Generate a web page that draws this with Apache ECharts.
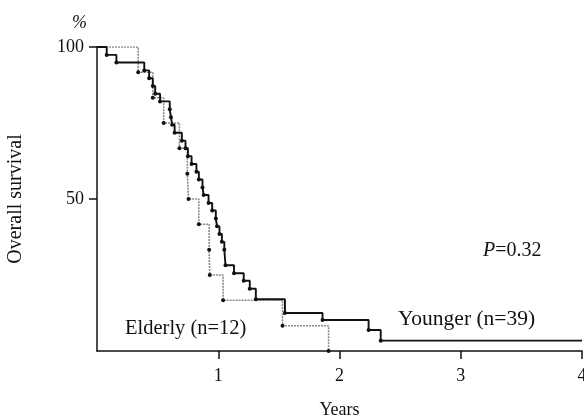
<!DOCTYPE html>
<html lang="en">
<head>
  <meta charset="UTF-8">
  <title>Overall survival</title>
  <script src="https://cdn.jsdelivr.net/npm/echarts@6/dist/echarts.min.js"></script>
</head>
<body style="margin:0">
  <div id="main" style="width:584px;height:420px"></div>
  <script>
    var myChart = echarts.init(document.getElementById('main'))

    // Kaplan-Meier steps: time in years, survival in %
    var youngerT = [0, 0.08, 0.16, 0.39, 0.43, 0.46, 0.48, 0.52, 0.6, 0.61, 0.62, 0.64, 0.7, 0.73, 0.75, 0.78,
                    0.82, 0.84, 0.87, 0.88, 0.92, 0.95, 0.98, 0.99, 1.01, 1.03, 1.05, 1.06, 1.13, 1.21, 1.26,
                    1.31, 1.55, 1.86, 2.24, 2.34, 4.0]
    var youngerS = [100, 97.4, 94.9, 92.3, 89.7, 87.2, 84.6, 82.1, 79.5, 76.9, 74.4, 71.8, 69.2, 66.7, 64.1, 61.5,
                    59.0, 56.4, 53.8, 51.3, 48.7, 46.2, 43.6, 41.0, 38.5, 35.9, 33.3, 28.2, 25.6, 23.1, 20.5,
                    17.0, 12.5, 10.2, 6.9, 3.4, 3.4]
    var elderlyT = [0, 0.34, 0.46, 0.55, 0.68, 0.745, 0.755, 0.84, 0.925, 0.93, 1.04, 1.53, 1.91]
    var elderlyS = [100, 91.7, 83.3, 75, 66.7, 58.3, 50, 41.7, 33.3, 25, 16.7, 8.3, 0]

    var xTicks = [1, 2, 3, 4]
    var yTicks = [50, 100]

    var font = 'Liberation Serif'

    // first and last point get no dot
    function toSeriesData(t, s) {
      var arr = []
      for (var i = 0; i < t.length; i++) {
        var item = { value: [t[i], s[i]] }
        if (i === 0 || i === t.length - 1 && t[i] === 4.0) {
          item.symbol = 'none'
        }
        arr.push(item)
      }
      return arr
    }

    var options = {
      animation: false,
      grid: { left: 97, right: 2, top: 47, bottom: 69, outerBoundsMode: 'none', containLabel: false },
      xAxis: {
        type: 'value',
        min: 0, max: 4, interval: 1,
        name: 'Years',
        nameLocation: 'middle',
        nameGap: 50,
        nameTextStyle: { fontFamily: font, fontSize: 18, color: '#111' },
        axisLine: { onZero: false, lineStyle: { color: '#111', width: 1.5 } },
        axisTick: { customValues: xTicks, length: 8, lineStyle: { color: '#111', width: 1.5 } },
        axisLabel: { customValues: xTicks, margin: 16, fontFamily: font, fontSize: 18, color: '#111' },
        splitLine: { show: false }
      },
      yAxis: {
        type: 'value',
        min: 0, max: 100, interval: 50,
        name: 'Overall survival',
        nameLocation: 'middle',
        nameGap: 71,
        nameTextStyle: { fontFamily: font, fontSize: 20, color: '#111' },
        axisLine: { show: true, onZero: false, lineStyle: { color: '#111', width: 1.5 } },
        axisTick: { show: true, customValues: yTicks, length: 8, lineStyle: { color: '#111', width: 1.5 } },
        axisLabel: { customValues: yTicks, margin: 13, fontFamily: font, fontSize: 18, color: '#111' },
        splitLine: { show: false }
      },
      graphic: [
        { type: 'text', left: 72, top: 14, style: { text: '%', fontFamily: font, fontSize: 18, fontStyle: 'italic', fill: '#111' } },
        {
          type: 'text', left: 483, top: 241,
          style: {
            text: '{i|P}=0.32', fontFamily: font, fontSize: 20, fill: '#111',
            rich: { i: { fontStyle: 'italic', fontFamily: font, fontSize: 20 } }
          }
        },
        { type: 'text', left: 398, top: 308, style: { text: 'Younger (n=39)', fontFamily: font, fontSize: 21.5, fill: '#111' } },
        { type: 'text', left: 125, top: 318, style: { text: 'Elderly (n=12)', fontFamily: font, fontSize: 20.5, fill: '#111' } }
      ],
      series: [
        {
          name: 'Elderly',
          type: 'line',
          step: 'end',
          data: toSeriesData(elderlyT, elderlyS),
          symbol: 'circle',
          symbolSize: 4,
          showAllSymbol: true,
          itemStyle: { color: '#111' },
          lineStyle: { color: '#8a8a8a', width: 1.6, type: [2, 1] },
          z: 2
        },
        {
          name: 'Younger',
          type: 'line',
          step: 'end',
          data: toSeriesData(youngerT, youngerS),
          symbol: 'circle',
          symbolSize: 4,
          showAllSymbol: true,
          itemStyle: { color: '#111' },
          lineStyle: { color: '#111', width: 1.9 },
          z: 3
        }
      ]
    }

    myChart.setOption(options)
  </script>
</body>
</html>
